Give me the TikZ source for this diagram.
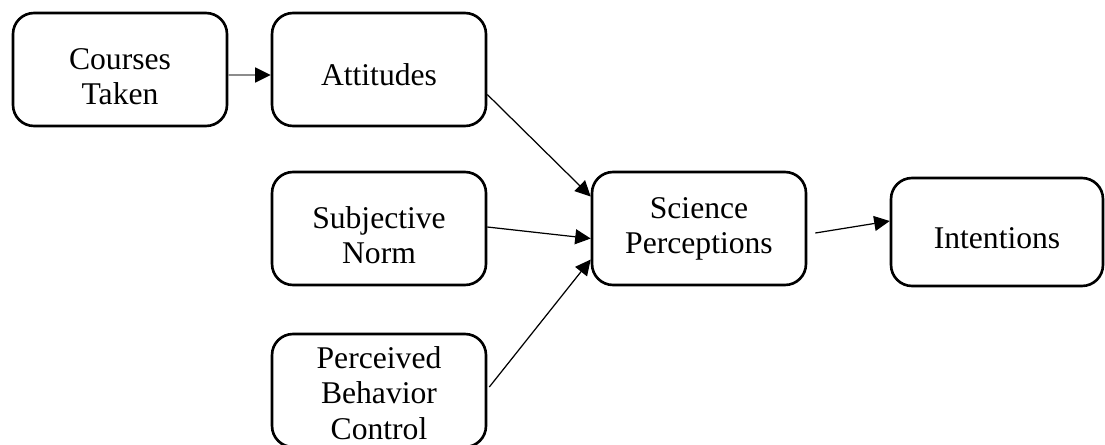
\documentclass[tikz,border=0pt]{standalone}
\usepackage{fontspec}
\setmainfont{Liberation Serif}
\usetikzlibrary{arrows.meta,calc}
\newcommand{\topgap}[1]{\rule{0pt}{#1}}
\tikzset{
  factor/.style={draw, line width=1.5pt, rounded corners=0.42cm, minimum width=4.28cm,
    minimum height=2.26cm, inner sep=0pt, align=center, font=\fontsize{18}{20}\selectfont},
  link/.style={-{Triangle[length=0.31cm,width=0.30cm]}, line width=0.7pt},
}

\begin{document}
\begin{tikzpicture}[x=0.02cm,y=-0.02cm]
  \useasboundingbox (0,0) rectangle (1105,444);
  \clip (0,0) rectangle (1105,444);
  \node[factor] (courses) at (120,69.5) {\topgap{20pt}Courses\\Taken};
  \node[factor] (att) at (379,69.5) {\topgap{18pt}Attitudes};
  \node[factor] (subj) at (379,228.5) {\topgap{20pt}Subjective\\Norm};
  \node[factor] (pbc) at (379,390.5) {\topgap{15.5pt}Perceived\\Behavior\\Control};
  \node[factor] (sci) at (699,228.5) {Science\\Perceptions};
  \node[factor, minimum width=4.24cm, minimum height=2.16cm] (intent) at (997,232) {\topgap{19pt}Intentions};
  \draw[link, black!45, -{Triangle[length=0.31cm,width=0.30cm,color=black]}]
    ($(courses.east)+(0,5.5)$) -- ($(att.west)+(0,5.5)$);
  \draw[link] ($(att.east)+(0,25)$) -- ($(sci.west)+(0,-32)$);
  \draw[link] ($(subj.east)+(0,-1.5)$) -- ($(sci.west)+(0,10)$);
  \draw[link] ($(pbc.east)+(2,-3.5)$) -- ($(sci.west)+(0,31)$);
  \draw[link] ($(sci.east)+(8,4.5)$) -- ($(intent.west)+(0,-11)$);
\end{tikzpicture}
\end{document}
